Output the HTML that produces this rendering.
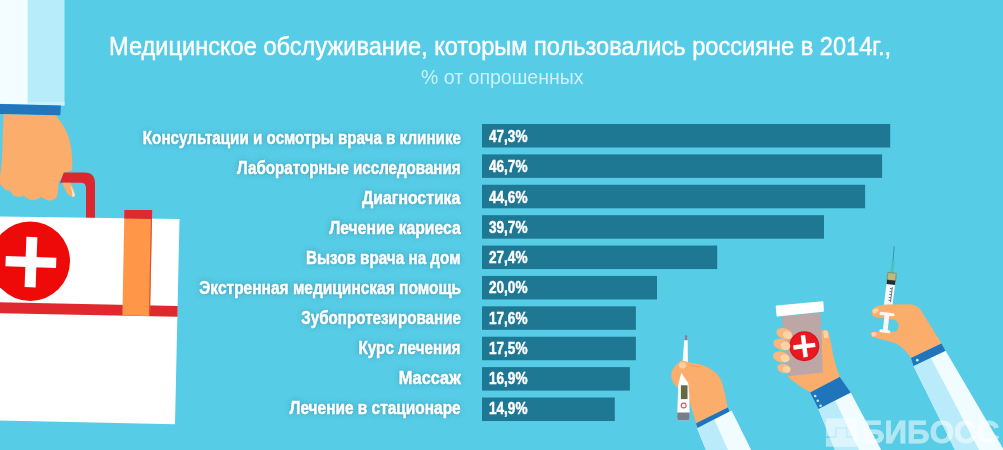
<!DOCTYPE html>
<html lang="ru">
<head>
<meta charset="utf-8">
<title>Медицинское обслуживание, которым пользовались россияне в 2014г.</title>
<style>
html,body{margin:0;padding:0}
body{width:1003px;height:450px;overflow:hidden;position:relative;background:#56cce6;
  font-family:"Liberation Sans",sans-serif;color:#fff}
.art{position:absolute;left:0;top:0;width:1003px;height:450px;display:block}
h1{position:absolute;margin:0;left:108.6px;top:30.1px;height:32px;line-height:32px;white-space:nowrap;
  font-size:26.7px;font-weight:400;-webkit-text-stroke:.45px #fff;transform-origin:0 50%;transform:scaleX(0.8844)}
.sub{position:absolute;margin:0;left:420.6px;top:65.4px;height:24px;line-height:24px;white-space:nowrap;
  font-size:19.5px;font-weight:400;color:rgba(255,255,255,.7);transform-origin:0 50%;transform:scaleX(1.0005)}
.chart{position:absolute;left:0;top:0;margin:0;padding:0;list-style:none}
.chart li{position:absolute;left:0;height:23.5px;width:1003px}
.lab{position:absolute;right:542.2px;top:0;height:23.5px;line-height:28px;-webkit-text-stroke:.55px #fff;white-space:nowrap;
  font-size:19.2px;font-weight:700;transform-origin:100% 50%;
  text-shadow:0 0 7px rgba(0,60,90,.28),0 0 3px rgba(0,60,90,.22)}
.val{position:absolute;left:489px;top:0;height:23.5px;line-height:28.4px;-webkit-text-stroke:.45px #fff;white-space:nowrap;
  font-size:15.6px;font-weight:700;transform-origin:0 50%;transform:scaleX(0.8707)}
.wm{position:absolute;left:820px;top:410px;height:40px;width:183px;overflow:hidden}
.wm svg{position:absolute;left:0;top:0;opacity:.5}
.wm span{position:absolute;left:41.9px;top:3.8px;line-height:36px;font-size:31.5px;font-weight:700;white-space:nowrap;opacity:.54;-webkit-text-stroke:.8px #fff;transform-origin:0 50%;transform:scaleX(0.9962)}
</style>
</head>
<body>
<svg class="art" viewBox="0 0 1003 450" width="1003" height="450" aria-hidden="true">
  <!-- left arm with medical case -->
  <g id="case-arm">
    <polygon points="0,0 64.5,0 64.5,105.4 0,103.8" fill="#b7ecfb"/>
    <polygon points="27.5,102 64.5,102 64.5,105.4 27.5,104.6" fill="#c9f2fd"/>
    <polygon points="0,0 27.6,0 27.6,104.6 0,103.8" fill="#f3fcff"/>
    <polygon points="0,104 60.9,105.4 60.3,115.3 0,114" fill="#2176bd"/>
    <!-- hand -->
    <path d="M3.6,114.2 L55.8,115.4 C60,120.5 64,126 66.5,131.5 C69,137 70.6,143 71.4,150 C72.2,157 72.5,164 72.2,170 L64,173 L58.5,183 C58.3,187 58.2,191 57.5,194.5 C56.5,198.5 53.5,200.6 49.8,200.6 C46.5,200.6 43.5,199 41.5,196.5 C39.5,198.8 36.3,200 32.7,200 C29,200 26,198.3 24.3,195.5 C22.3,196.8 19.8,197.2 17.1,196.8 C13.5,196.2 11,193.8 10.2,190.5 C8.3,190.8 6.3,190.2 4.7,189 C2.8,187.6 1.2,185.8 0,183.5 L0,176 C1.2,170 1.8,162 2.2,152 C2.6,140 3.1,127 3.6,114.2 Z" fill="#fbad6b"/>
    <!-- handle -->
    <path d="M63.8,172.5 H84.5 Q95,172.5 95,183.5 V218.2 H86 V188 Q86,182.7 81,182.7 H60 Z" fill="#dc2730"/>
    <path d="M62.2,182.7 L70.8,182.7 C72.6,186.5 74,190.5 74.8,194.3 C75,196.5 73.8,197.3 72.2,196.8 C70.5,196.3 69.2,195.6 68.2,194.6 C65.8,191 63.8,187 62.2,182.7 Z" fill="#fbad6b"/>
    <path d="M70.3,185.5 C72.4,188.3 73.9,191.2 74.8,194.3 C75,196.5 73.8,197.3 72.2,196.8 C72.4,193 71.7,189.2 70.3,185.5 Z" fill="#ffe2c3"/>
    <!-- case -->
    <polygon points="0,216.5 179.5,219 175,424.3 0,420.4" fill="#ffffff"/>
    <polygon points="0,302.2 177.7,306.1 177.5,316.7 0,313.2" fill="#e0292f"/>
    <polygon points="124.4,210 152.2,210 150,316 122.4,315.5" fill="#ff9648"/>
    <polygon points="124.4,210 152.2,210 152,219 124.2,218.6" fill="#dc2a31"/>
    <polygon points="150.9,219 152,219 150,316 148.9,316" fill="#d8503a"/>
    <circle cx="30.2" cy="261.2" r="39.8" fill="#ef0a0a"/>
    <g transform="rotate(2 31 262)" fill="#ffffff"><rect x="25.5" y="237" width="11" height="50.2"/><rect x="5.6" y="256.8" width="50.6" height="10.4"/></g>
  </g>
  <!-- hand with thermometer -->
  <g id="thermo-hand">
    <polygon points="696.9,427.8 731.6,410.6 751.2,450 706,450" fill="#f1fcff"/>
    <polygon points="696.9,427.8 714.4,419.4 728,450 706,450" fill="#b9ebfa"/>
    <path d="M679.5,362.3 C680.5,361 681.5,360.7 682.5,360.7 C684.5,360.7 686.5,361.5 688.3,362.3 C690.5,363 693,363.2 695.3,363.5 C697.5,363.8 700,364.4 702.3,365.1 C705.5,366.3 708.7,367.9 711.7,369.8 C714.3,371.5 716.7,373.5 718.7,375.9 C720.3,378.1 721.4,380.6 722.2,383.3 C723.4,387.1 724.4,391 725.2,395 C726.1,399 726.8,403 727.7,407.6 L696.3,423.4 C695,419.4 693.6,415.2 692.5,411.3 L689,399 L680,389 C679,388.6 678.3,388.1 677.8,387.5 C676.6,386.8 675.6,385.8 674.8,384.5 C673.4,383.3 672.4,381.7 672,379.8 C671.2,377.5 671,375 671.5,372.8 C672,370.5 673,368.5 674.3,367 C675.8,365.2 677.5,363.5 679.5,362.3 Z" fill="#fbad6b"/>
    <polygon points="696.1,423.2 727.9,407.4 729.3,411.6 697.4,428" fill="#2074bb"/>
    <!-- thermometer -->
    <path d="M684.5,336.5 L687.6,336.5 L687.9,360.5 L687.2,372 L688.3,383.3 L689.3,395 L689.7,417.2 Q689.7,420.2 687.4,420.2 L679.5,420.2 Q677.1,420.2 677.1,417.2 L678.3,384.5 L681.3,372.8 L682.7,360.5 Z" fill="#fbfdfe"/>
    <path d="M684.5,336.5 Q686,333.4 687.6,336.5 L687.65,340.3 L684.25,340.3 Z" fill="#7289a8"/>
    <path d="M677.3,412.4 L689.6,412.4 L689.7,417.2 Q689.7,420.2 687.4,420.2 L679.5,420.2 Q677.1,420.2 677.1,417.2 Z" fill="#7a7e8c"/>
    <rect x="680.9" y="385.3" width="6.6" height="13.8" fill="#626b45"/>
    <circle cx="683.7" cy="405.5" r="2.4" fill="none" stroke="#e2525c" stroke-width="1.1"/>
    <!-- thumb over thermometer -->
    <path d="M678.5,362.8 C680,361 681.5,360.7 682.5,360.7 C684.5,360.7 686.5,361.5 688.3,362.3 L691,363 L691.5,384 L688.3,383.3 L681.3,372.8 L677.5,372 Z" fill="#fbad6b"/>
    <ellipse cx="682.6" cy="365.2" rx="3.6" ry="3.2" fill="#fdcfa0"/>
    <path d="M689.5,365.2 C693,366.6 697,367 700.5,366.2" fill="none" stroke="#ee9a55" stroke-width="0.8"/>
  </g>
  <!-- hand with jar -->
  <g id="jar-hand">
    <polygon points="818.4,408.8 850.7,392.4 881.2,450 835,450" fill="#f1fcff"/>
    <polygon points="818.4,408.8 835.2,400.4 859,450 835,450" fill="#b9ebfa"/>
    <path d="M821,331 C823,329.5 826.5,329.8 828.5,332 C830,338 831.5,346 833,354 C834.8,362 837,370 839.8,377 L810.4,392.6 C803,388.2 795,383.2 788.5,377.6 L788,360 L822,350 Z" fill="#fbad6b"/>
    <polygon points="810.2,392.5 839.7,376.9 850.7,392.4 818.5,409" fill="#2074bb"/>
    <circle cx="815.2" cy="396" r="1.3" fill="#bfe9f8"/><circle cx="817.8" cy="400.8" r="1.3" fill="#bfe9f8"/><circle cx="820.6" cy="405.8" r="1.3" fill="#bfe9f8"/>
    <polygon points="781.8,316.4 820.6,312.6 822.8,372.4 788.2,376.2" fill="#bca6a6"/>
    <path d="M776.7,305.6 L822.3,301.2 Q823.3,301.1 823.4,302.1 L823.9,310.8 Q824,311.7 823,311.8 L777.6,316.6 Q776.6,316.7 776.5,315.7 L775.7,306.7 Q775.6,305.7 776.7,305.6 Z" fill="#ffffff"/>
    <circle cx="804.3" cy="346.2" r="15" fill="#d9141c"/><circle cx="804.3" cy="346.2" r="13.8" fill="#ec1820"/>
    <g transform="rotate(-7 804.3 346.2)" fill="#ffffff"><rect x="802.1" y="335.2" width="4.4" height="22"/><rect x="793.3" y="344" width="22" height="4.4"/></g>
    <g fill="#fab77f">
      <ellipse cx="784.5" cy="333.8" rx="8.5" ry="5.3" transform="rotate(20 784.5 333.8)"/>
      <ellipse cx="781.8" cy="344.5" rx="8.8" ry="5.4" transform="rotate(18 781.8 344.5)"/>
      <ellipse cx="781.3" cy="357" rx="8.6" ry="5.4" transform="rotate(16 781.3 357)"/>
      <ellipse cx="784" cy="368.5" rx="7" ry="4.6" transform="rotate(14 784 368.5)"/>
    </g>
    <g fill="#fdd3a8">
      <ellipse cx="787.5" cy="335" rx="4.6" ry="3.8" transform="rotate(20 787.5 335)"/>
      <ellipse cx="785.5" cy="346" rx="4.8" ry="4" transform="rotate(18 785.5 346)"/>
      <ellipse cx="785" cy="358.3" rx="4.6" ry="3.9" transform="rotate(16 785 358.3)"/>
      <ellipse cx="786.5" cy="369.5" rx="3.8" ry="3.3" transform="rotate(14 786.5 369.5)"/>
    </g>
    <path d="M823.3,331 C824.5,329.8 826.8,330 827.7,331.5 L828.6,337.5 L824,338.3 Z" fill="#fdd3a8"/>
  </g>
  <!-- hand with syringe -->
  <g id="syringe-hand">
    <polygon points="913.5,366 945.6,350.8 1003,448.6 1003,450 955,450" fill="#f1fcff"/>
    <polygon points="913.5,366 930.8,357.7 979,450 955,450" fill="#b9ebfa"/>
    <!-- syringe -->
    <line x1="894.2" y1="246" x2="892.9" y2="262.5" stroke="#3c82a4" stroke-width="0.8"/>
    <g transform="rotate(7 890.3 288)">
      <rect x="888.4" y="261.6" width="3.2" height="11.6" fill="#48c4c0"/>
      <rect x="886" y="272.8" width="8.6" height="33" fill="#f6f8f9"/>
      <rect x="886" y="272.8" width="8.6" height="7.6" fill="#bdb97a"/>
      <rect x="886" y="272.8" width="8.6" height="7.6" fill="none" stroke="#6f6d3e" stroke-width="0.6"/>
      <rect x="886" y="280.2" width="8.6" height="4.2" fill="#1d3137"/>
      <path d="M892.2,287 v15 M890,288.5 h2.2 M890,291.5 h2.2 M890,294.5 h2.2 M890,297.5 h2.2 M890,300.5 h2.2" stroke="#5a6468" stroke-width="0.8" fill="none"/>
    </g>
    <!-- hand -->
    <path d="M872.6,309.5 C875,306.2 880,305 886,304.6 L911,304.3 C915,304.8 918.5,307 921,310.5 C926,318 932,328 935.5,334 C937.8,337.5 939.8,340.5 941.5,343.5 L911,358 C907.5,352.5 902.5,347 896,343.4 C889,341.2 880,339 872.8,337 C870.2,336 870.2,332.6 872.8,331.8 L893.5,332 C897.5,331 898.8,328.5 898.6,326 C898.4,322.5 896.5,320 893,319.4 L876,317.6 C871.8,316.6 870.4,312.6 872.6,309.5 Z" fill="#fbad6b"/>
    <polygon points="911,358 941.4,343.4 945.4,350.8 913.6,366" fill="#2074bb"/>
    <circle cx="917.3" cy="360.2" r="1.4" fill="#bfe9f8"/>
    <!-- plunger -->
    <g transform="rotate(6.5 886 322)" fill="#fbf9f5">
      <rect x="878.6" y="312.4" width="15" height="3.2" rx="1.3"/>
      <rect x="883.8" y="314" width="4.8" height="17"/>
      <rect x="880.4" y="329.8" width="11" height="3" rx="1.3"/>
    </g>
    <path d="M871.5,333.2 C873,331.7 876,332 877,333.7 C876.5,335.7 874,337 872,336.2 Z" fill="#fdd3a8"/>
    <path d="M872.3,310.3 C874,308.3 877,307.9 878.5,309.3 C878.5,311.8 876,313.8 873.3,313.8 Z" fill="#fdd3a8"/>
  </g>
  <g id="bars" fill="#1f7893">
    <rect x="482" y="124.00" width="408.2" height="23.5"/>
    <rect x="482" y="154.39" width="400.1" height="23.5"/>
    <rect x="482" y="184.78" width="383.1" height="23.5"/>
    <rect x="482" y="215.17" width="342.0" height="23.5"/>
    <rect x="482" y="245.56" width="235.2" height="23.5"/>
    <rect x="482" y="275.95" width="175.0" height="23.5"/>
    <rect x="482" y="306.34" width="153.9" height="23.5"/>
    <rect x="482" y="336.73" width="153.9" height="23.5"/>
    <rect x="482" y="367.12" width="147.9" height="23.5"/>
    <rect x="482" y="397.51" width="132.8" height="23.5"/>
  </g>
</svg>

<h1>Медицинское обслуживание, которым пользовались россияне в 2014г.,</h1>
<p class="sub">% от опрошенных</p>
<ul class="chart">
  <li style="top:124.00px"><span class="lab" style="top:-0.00px;transform:scaleX(0.7914)">Консультации и осмотры врача в клинике</span><span class="val" style="top:-1.00px">47,3%</span></li>
  <li style="top:154.39px"><span class="lab" style="top:-0.39px;transform:scaleX(0.7881)">Лабораторные исследования</span><span class="val" style="top:-1.12px">46,7%</span></li>
  <li style="top:184.78px"><span class="lab" style="top:-0.78px;transform:scaleX(0.8238)">Диагностика</span><span class="val" style="top:-1.24px">44,6%</span></li>
  <li style="top:215.17px"><span class="lab" style="top:-1.17px;transform:scaleX(0.8180)">Лечение кариеса</span><span class="val" style="top:-1.36px">39,7%</span></li>
  <li style="top:245.56px"><span class="lab" style="top:-1.56px;transform:scaleX(0.7946)">Вызов врача на дом</span><span class="val" style="top:-1.48px">27,4%</span></li>
  <li style="top:275.95px"><span class="lab" style="top:-1.95px;transform:scaleX(0.8076)">Экстренная медицинская помощь</span><span class="val" style="top:-1.60px">20,0%</span></li>
  <li style="top:306.34px"><span class="lab" style="top:-2.34px;transform:scaleX(0.7908)">Зубопротезирование</span><span class="val" style="top:-1.72px">17,6%</span></li>
  <li style="top:336.73px"><span class="lab" style="top:-2.73px;transform:scaleX(0.7930)">Курс лечения</span><span class="val" style="top:-1.84px">17,5%</span></li>
  <li style="top:367.12px"><span class="lab" style="top:-3.12px;transform:scaleX(0.8522)">Массаж</span><span class="val" style="top:-1.96px">16,9%</span></li>
  <li style="top:397.51px"><span class="lab" style="top:-3.51px;transform:scaleX(0.8045)">Лечение в стационаре</span><span class="val" style="top:-2.08px">14,9%</span></li>
</ul>
<div class="wm"><svg width="40" height="40" viewBox="820 410 40 40" aria-hidden="true"><path fill="#fff" fill-rule="evenodd" d="M825.9,418.3 H857 V446.8 H825.9 Z M835.2,427.4 V436.6 H825.9 V437.8 H836.5 V428.6 H846.2 V437.8 H852.5 V436.6 H847.4 V427.4 Z"/></svg><span>БИБОСС</span></div>
</body>
</html>
